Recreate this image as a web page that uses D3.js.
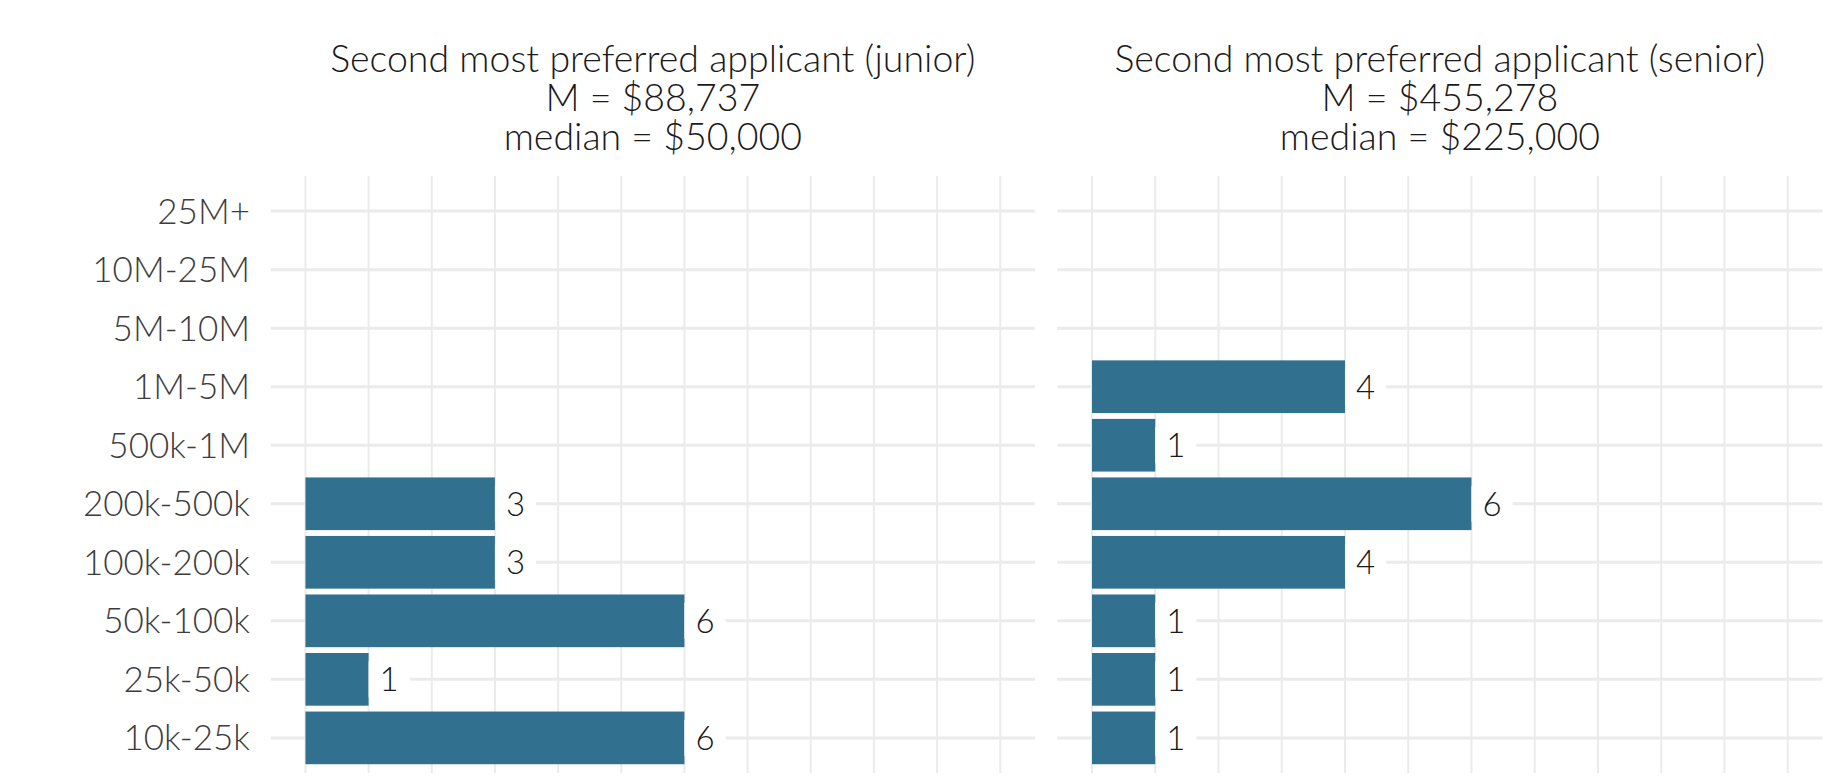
<!DOCTYPE html>
<html>
<head>
<meta charset="utf-8">
<script src="https://cdnjs.cloudflare.com/ajax/libs/d3/7.8.5/d3.min.js"></script>
<style>
   body{margin:0;background:#fff;}
   text{font-family:Lato,"Open Sans",sans-serif;}
</style>
</head>
<body>
<svg id="chart"></svg>
<script>
// salary bands, bottom to top as in the data
var categories = ["10k-25k","25k-50k","50k-100k","100k-200k","200k-500k","500k-1M","1M-5M","5M-10M","10M-25M","25M+"];
var junior = [6,1,6,3,3,0,0,0,0,0];
var senior = [1,1,1,4,6,1,4,0,0,0];
var xTicks = [0,1,2,3,4,5,6,7,8,9,10,11];
var titles = [
   ["Second most preferred applicant (junior)","M = $88,737","median = $50,000"],
   ["Second most preferred applicant (senior)","M = $455,278","median = $225,000"]
];

var W = 1830, H = 779;
var svg = d3.select("#chart").attr("width",W).attr("height",H);

var barColor = "#31708f";
var gridColor = "#ebebeb";

var yTop = 176, yBottom = 773;
var panels = [
   {x0:270.7, x1:1035, values:junior, title:titles[0]},
   {x0:1057.2, x1:1822.5, values:senior, title:titles[1]}
];

// y: first category at the bottom
var y = d3.scaleBand()
   .domain(categories.slice().reverse())
   .range([yTop,yBottom])
   .paddingInner(0.1)
   .paddingOuter(0.15);

var drawPanel = function(p, idx){
   var xmax = d3.max(xTicks);
   var pad = xmax*0.05;
   var x = d3.scaleLinear().domain([-pad, xmax+pad]).range([p.x0,p.x1]);
   var g = svg.append("g").attr("class","panel");

   // grid
   g.selectAll(".vgrid").data(xTicks).enter().append("line")
      .attr("x1",function(d){return x(d)}).attr("x2",function(d){return x(d)})
      .attr("y1",yTop).attr("y2",yBottom)
      .attr("stroke",gridColor).attr("stroke-width",2);
   g.selectAll(".hgrid").data(categories).enter().append("line")
      .attr("x1",p.x0).attr("x2",p.x1)
      .attr("y1",function(d){return y(d)+y.bandwidth()/2})
      .attr("y2",function(d){return y(d)+y.bandwidth()/2})
      .attr("stroke",gridColor).attr("stroke-width",3);

   var rows = categories.map(function(c,i){return {cat:c, v:p.values[i]}})
      .filter(function(d){return d.v > 0});

   g.selectAll(".bar").data(rows).enter().append("rect")
      .attr("x",x(0))
      .attr("y",function(d){return y(d.cat)})
      .attr("width",function(d){return x(d.v)-x(0)})
      .attr("height",y.bandwidth())
      .attr("fill",barColor);

   // labels with white box (geom_label style)
   var lab = g.selectAll(".lab").data(rows).enter().append("g")
      .attr("transform",function(d){return "translate("+x(d.v)+","+(y(d.cat)+y.bandwidth()/2)+")"});
   var bg = lab.append("rect").attr("fill","#fff");
   var t = lab.append("text")
      .attr("x",11).attr("dy","0.36em")
      .attr("font-size",33).attr("font-weight",300).attr("fill","#1a1a1a")
      .text(function(d){return d.v});
   t.each(function(){
      var w = this.getComputedTextLength();
      d3.select(this.previousSibling).attr("x",0).attr("y",-18).attr("width",w+22).attr("height",36);
   });

   // strip title
   var cx = (p.x0+p.x1)/2;
   var tt = g.append("text").attr("text-anchor","middle").attr("font-size",37.5)
      .attr("font-weight",300).attr("fill","#1a1a1a");
   p.title.forEach(function(s,i){
      tt.append("tspan").attr("x",cx).attr("y",72+i*39).text(s);
   });
};

panels.forEach(drawPanel);

// y axis labels (shared, left only)
svg.append("g").selectAll("text").data(categories).enter().append("text")
   .attr("x",250)
   .attr("y",function(d){return y(d)+y.bandwidth()/2})
   .attr("dy","0.36em")
   .attr("text-anchor","end")
   .attr("font-size",35)
   .attr("font-weight",300)
   .attr("fill","#3d3d3d")
   .text(function(d){return d});
</script>
</body>
</html>
